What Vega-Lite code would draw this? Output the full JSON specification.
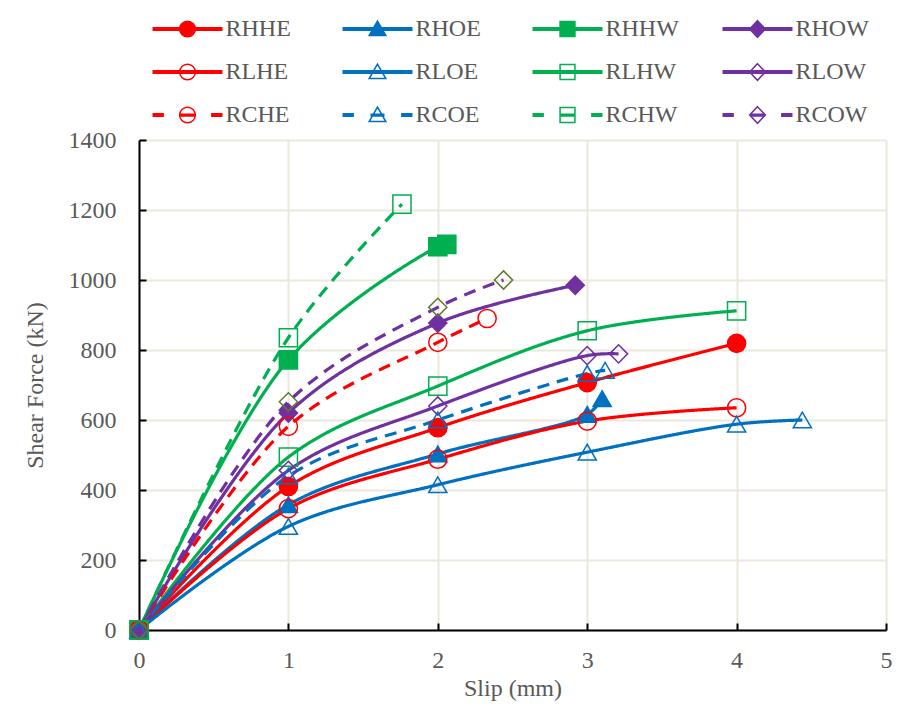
{
  "$schema": "https://vega.github.io/schema/vega-lite/v6.json",
  "width": 747,
  "height": 490,
  "autosize": {"type": "none"},
  "padding": {"left": 139, "top": 140, "right": 16, "bottom": 76},
  "background": "white",
  "config": {
    "font": "Liberation Serif",
    "view": {"stroke": null},
    "axis": {
      "labelFont": "Liberation Serif", "labelFontSize": 24, "labelColor": "#595959",
      "titleFont": "Liberation Serif", "titleFontSize": 24, "titleColor": "#595959", "titleFontWeight": "normal",
      "domainColor": "#000000", "domainWidth": 2,
      "tickColor": "#000000", "tickWidth": 2, "tickSize": -7,
      "gridColor": "#EBE7DD", "gridWidth": 2,
      "labelFlush": false, "labelOverlap": false
    }
  },
  "data": {"values": [
    {"series": "RHHE", "slip": 0, "force": 0}, {"series": "RHHE", "slip": 1, "force": 410}, {"series": "RHHE", "slip": 2, "force": 578}, {"series": "RHHE", "slip": 3, "force": 707}, {"series": "RHHE", "slip": 4, "force": 819},
    {"series": "RHOE", "slip": 0, "force": 0}, {"series": "RHOE", "slip": 1, "force": 358}, {"series": "RHOE", "slip": 2, "force": 503}, {"series": "RHOE", "slip": 3, "force": 616}, {"series": "RHOE", "slip": 3.1, "force": 661},
    {"series": "RHHW", "slip": 0, "force": 0}, {"series": "RHHW", "slip": 1, "force": 772}, {"series": "RHHW", "slip": 2, "force": 1095}, {"series": "RHHW", "slip": 2.06, "force": 1102},
    {"series": "RHOW", "slip": 0, "force": 0}, {"series": "RHOW", "slip": 1, "force": 620}, {"series": "RHOW", "slip": 2, "force": 877}, {"series": "RHOW", "slip": 2.92, "force": 985},
    {"series": "RLHE", "slip": 0, "force": 0}, {"series": "RLHE", "slip": 1, "force": 347}, {"series": "RLHE", "slip": 2, "force": 488}, {"series": "RLHE", "slip": 3, "force": 597}, {"series": "RLHE", "slip": 4, "force": 635},
    {"series": "RLOE", "slip": 0, "force": 0}, {"series": "RLOE", "slip": 1, "force": 296}, {"series": "RLOE", "slip": 2, "force": 415}, {"series": "RLOE", "slip": 3, "force": 508}, {"series": "RLOE", "slip": 4, "force": 588}, {"series": "RLOE", "slip": 4.44, "force": 600},
    {"series": "RLHW", "slip": 0, "force": 0}, {"series": "RLHW", "slip": 1, "force": 494}, {"series": "RLHW", "slip": 2, "force": 697}, {"series": "RLHW", "slip": 3, "force": 855}, {"series": "RLHW", "slip": 4, "force": 912},
    {"series": "RLOW", "slip": 0, "force": 0}, {"series": "RLOW", "slip": 1, "force": 456}, {"series": "RLOW", "slip": 2, "force": 640}, {"series": "RLOW", "slip": 3, "force": 784}, {"series": "RLOW", "slip": 3.21, "force": 789},
    {"series": "RCHE", "slip": 0, "force": 0}, {"series": "RCHE", "slip": 1, "force": 582}, {"series": "RCHE", "slip": 2, "force": 822}, {"series": "RCHE", "slip": 2.33, "force": 890},
    {"series": "RCOE", "slip": 0, "force": 0}, {"series": "RCOE", "slip": 1, "force": 440}, {"series": "RCOE", "slip": 2, "force": 600}, {"series": "RCOE", "slip": 3, "force": 733}, {"series": "RCOE", "slip": 3.12, "force": 742},
    {"series": "RCHW", "slip": 0, "force": 0}, {"series": "RCHW", "slip": 1, "force": 835}, {"series": "RCHW", "slip": 1.76, "force": 1217},
    {"series": "RCOW", "slip": 0, "force": 0}, {"series": "RCOW", "slip": 1, "force": 652}, {"series": "RCOW", "slip": 2, "force": 922}, {"series": "RCOW", "slip": 2.44, "force": 1000}
  ]},
  "encoding": {
    "x": {"field": "slip", "type": "quantitative", "scale": {"domain": [0, 5], "nice": false},
      "axis": {"values": [0, 1, 2, 3, 4, 5], "title": "Slip (mm)", "labelPadding": 25, "titlePadding": 4, "format": "d"}},
    "y": {"field": "force", "type": "quantitative", "scale": {"domain": [0, 1400], "nice": false},
      "axis": {"values": [0, 200, 400, 600, 800, 1000, 1200, 1400], "title": "Shear Force (kN)", "labelPadding": 30, "titlePadding": 21, "format": "d"}}
  },
  "layer": [
    {
      "mark": {"type": "line", "strokeWidth": 3.2, "interpolate": "catmull-rom"},
      "encoding": {
        "color": {"field": "series", "type": "nominal", "legend": null,
          "scale": {"domain": ["RHHE","RHOE","RHHW","RHOW","RLHE","RLOE","RLHW","RLOW","RCHE","RCOE","RCHW","RCOW"],
            "range": ["#FF0000","#0070C0","#00B050","#7030A0","#FF0000","#0070C0","#00B050","#7030A0","#FF0000","#0070C0","#00B050","#7030A0"]}},
        "strokeDash": {"field": "series", "type": "nominal", "legend": null,
          "scale": {"domain": ["RHHE","RHOE","RHHW","RHOW","RLHE","RLOE","RLHW","RLOW","RCHE","RCOE","RCHW","RCOW"],
            "range": [[1,0],[1,0],[1,0],[1,0],[1,0],[1,0],[1,0],[1,0],[12,8],[12,8],[12,8],[12,8]]}}
      }
    },
    {
      "mark": {"type": "point", "size": 330, "strokeWidth": 1.5, "opacity": 1},
      "encoding": {
        "shape": {"field": "series", "type": "nominal", "legend": null,
          "scale": {"domain": ["RHHE","RHOE","RHHW","RHOW","RLHE","RLOE","RLHW","RLOW","RCHE","RCOE","RCHW","RCOW"],
            "range": ["circle","triangle-up","square","diamond","circle","triangle-up","square","diamond","circle","triangle-up","square","diamond"]}},
        "stroke": {"field": "series", "type": "nominal", "legend": null,
          "scale": {"domain": ["RHHE","RHOE","RHHW","RHOW","RLHE","RLOE","RLHW","RLOW","RCHE","RCOE","RCHW","RCOW"],
            "range": ["#FF0000","#0070C0","#00B050","#7030A0","#FF0000","#0070C0","#00B050","#7030A0","#FF0000","#0070C0","#00B050","#61792F"]}},
        "fill": {"field": "series", "type": "nominal", "legend": null,
          "scale": {"domain": ["RHHE","RHOE","RHHW","RHOW","RLHE","RLOE","RLHW","RLOW","RCHE","RCOE","RCHW","RCOW"],
            "range": ["#FF0000","#0070C0","#00B050","#7030A0","transparent","transparent","transparent","transparent","transparent","transparent","transparent","transparent"]}}
      }
    },
    {
      "mark": {"type": "point", "size": 306, "opacity": 0,
        "stroke": {"expr": "['#FF0000','#0070C0','#00B050','#7030A0','#FF0000','#0070C0','#00B050','#7030A0','#FF0000','#0070C0','#00B050','#7030A0'][indexof(['RHHE','RHOE','RHHW','RHOW','RLHE','RLOE','RLHW','RLOW','RCHE','RCOE','RCHW','RCOW'], datum.value)]"},
        "fill": {"expr": "['#FF0000','#0070C0','#00B050','#7030A0','transparent','transparent','transparent','transparent','transparent','transparent','transparent','transparent'][indexof(['RHHE','RHOE','RHHW','RHOW','RLHE','RLOE','RLHW','RLOW','RCHE','RCOE','RCHW','RCOW'], datum.value)]"}
      },
      "encoding": {
        "shape": {"field": "series", "type": "nominal",
          "scale": {"domain": ["RHHE","RHOE","RHHW","RHOW","RLHE","RLOE","RLHW","RLOW","RCHE","RCOE","RCHW","RCOW"],
            "range": [
              "M-4,-0.15H4M-4,0H4M-4,0.15H4M-0.9,0A0.9,0.9 0 1,1 0.9,0A0.9,0.9 0 1,1 -0.9,0Z",
              "M-4,-0.15H4M-4,0H4M-4,0.15H4M0,-0.9L0.95,0.75L-0.95,0.75Z",
              "M-4,-0.15H4M-4,0H4M-4,0.15H4M-0.85,-0.85H0.85V0.85H-0.85Z",
              "M-4,-0.15H4M-4,0H4M-4,0.15H4M0,-0.95L0.9,0L0,0.95L-0.9,0Z",
              "M-4,-0.15H4M-4,0H4M-4,0.15H4M-0.9,0A0.9,0.9 0 1,1 0.9,0A0.9,0.9 0 1,1 -0.9,0Z",
              "M-4,-0.15H4M-4,0H4M-4,0.15H4M0,-0.9L0.95,0.75L-0.95,0.75Z",
              "M-4,-0.15H4M-4,0H4M-4,0.15H4M-0.85,-0.85H0.85V0.85H-0.85Z",
              "M-4,-0.15H4M-4,0H4M-4,0.15H4M0,-0.95L0.9,0L0,0.95L-0.9,0Z",
              "M-4,-0.15H-2.7M-4,0H-2.7M-4,0.15H-2.7M-0.8,-0.1H0.8M-0.8,0H0.8M-0.8,0.1H0.8M2.7,-0.15H4M2.7,0H4M2.7,0.15H4M-0.9,0A0.9,0.9 0 1,1 0.9,0A0.9,0.9 0 1,1 -0.9,0Z",
              "M-4,-0.15H-2.7M-4,0H-2.7M-4,0.15H-2.7M-0.8,-0.1H0.8M-0.8,0H0.8M-0.8,0.1H0.8M2.7,-0.15H4M2.7,0H4M2.7,0.15H4M0,-0.9L0.95,0.75L-0.95,0.75Z",
              "M-4,-0.15H-2.7M-4,0H-2.7M-4,0.15H-2.7M-0.8,-0.1H0.8M-0.8,0H0.8M-0.8,0.1H0.8M2.7,-0.15H4M2.7,0H4M2.7,0.15H4M-0.85,-0.85H0.85V0.85H-0.85Z",
              "M-4,-0.15H-2.7M-4,0H-2.7M-4,0.15H-2.7M-0.8,-0.1H0.8M-0.8,0H0.8M-0.8,0.1H0.8M2.7,-0.15H4M2.7,0H4M2.7,0.15H4M0,-0.95L0.9,0L0,0.95L-0.9,0Z"
            ]},
          "legend": {
            "title": null, "orient": "none", "legendX": 11, "legendY": -123, "columns": 4, "direction": "horizontal",
            "symbolSize": 306, "symbolStrokeWidth": 1.5, "symbolOpacity": 1, "symbolOffset": 25.5,
            "labelOffset": 26, "labelFont": "Liberation Serif", "labelFontSize": 24, "labelColor": "#595959", "labelLimit": 200,
            "rowPadding": 19, "columnPadding": 40, "gridAlign": "all", "padding": 0
          }
        }
      }
    }
  ],
  "resolve": {"scale": {"shape": "independent"}, "legend": {"shape": "independent"}}
}
